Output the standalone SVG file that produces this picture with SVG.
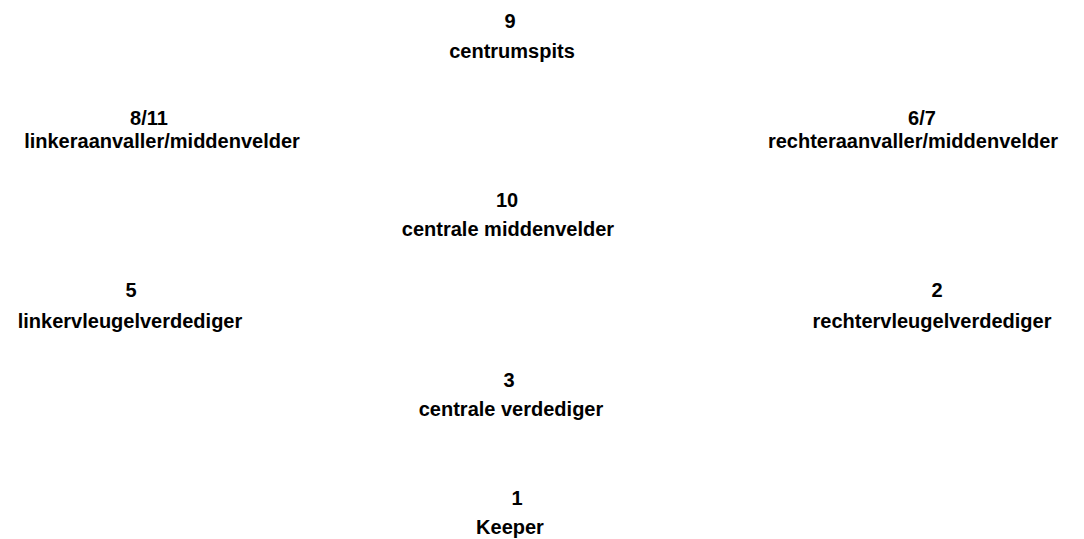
<svg xmlns="http://www.w3.org/2000/svg" width="1084" height="539" viewBox="0 0 1084 539">
<style>
text{font-family:"Liberation Sans",Arial,sans-serif;font-weight:bold;font-size:20px;fill:#000;text-anchor:middle}
</style>
<rect width="1084" height="539" fill="#fff"/>
<g id="connectors"/>
<g id="n9"><text x="510" y="28">9</text><text x="512" y="58">centrumspits</text></g>
<g id="n811"><text x="149" y="125">8/11</text><text x="162" y="148">linkeraanvaller/middenvelder</text></g>
<g id="n67"><text x="922" y="125">6/7</text><text x="913" y="148">rechteraanvaller/middenvelder</text></g>
<g id="n10"><text x="507" y="207">10</text><text x="508" y="236">centrale middenvelder</text></g>
<g id="n5"><text x="131" y="297">5</text><text x="130" y="328">linkervleugelverdediger</text></g>
<g id="n2"><text x="937" y="297">2</text><text x="932" y="328">rechtervleugelverdediger</text></g>
<g id="n3"><text x="509" y="387">3</text><text x="511" y="416">centrale verdediger</text></g>
<g id="n1"><text x="517" y="505">1</text><text x="510" y="534">Keeper</text></g>
</svg>
